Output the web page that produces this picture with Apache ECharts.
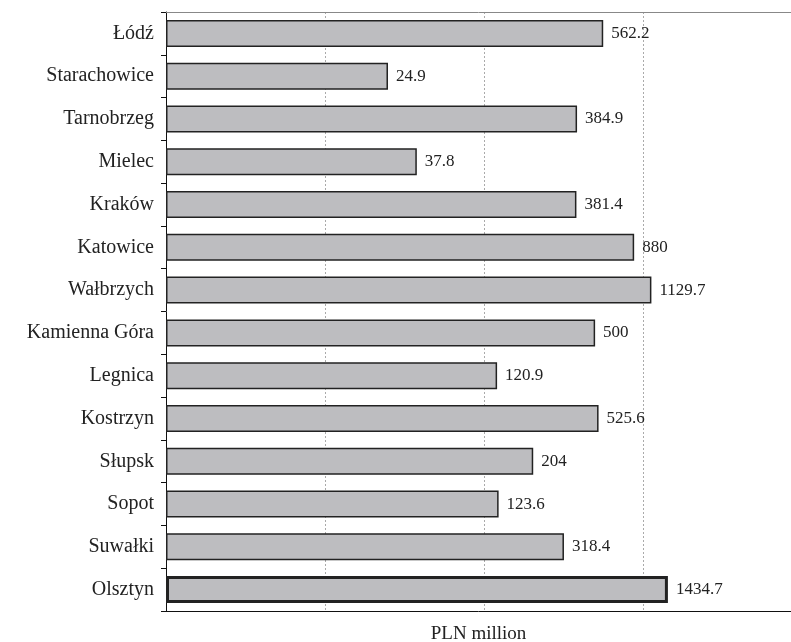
<!DOCTYPE html>
<html>
<head>
<meta charset="utf-8">
<script src="https://cdn.jsdelivr.net/npm/echarts@6/dist/echarts.min.js"></script>
<style>
  html, body { margin: 0; padding: 0; background: #fff; }
  #chart { width: 791px; height: 642px; }
</style>
</head>
<body>
<div id="chart"></div>
<script>
// cities, top to bottom
const cities = ["Łódź", "Starachowice", "Tarnobrzeg", "Mielec", "Kraków", "Katowice", "Wałbrzych",
  "Kamienna Góra", "Legnica", "Kostrzyn", "Słupsk", "Sopot", "Suwałki", "Olsztyn"];
const values = [562.2, 24.9, 384.9, 37.8, 381.4, 880, 1129.7, 500, 120.9, 525.6, 204, 123.6, 318.4, 1434.7];
const highlighted = "Olsztyn";

const chart = echarts.init(document.getElementById("chart"));

const serif = "Liberation Serif";

const option = {
  animation: false,
  grid: {
    left: 166,
    top: 12,
    right: 0,
    bottom: 31,
    containLabel: false,
    outerBoundsMode: "none",
  },
  xAxis: [
    {
      type: "log",
      logBase: 10,
      min: 1,
      max: 8530, // plot runs off the right edge of the picture
      name: "PLN million",
      nameLocation: "middle",
      nameGap: 14,
      nameTextStyle: { fontFamily: serif, fontSize: 19, color: "#222" },
      axisLine: { show: true, lineStyle: { color: "#111", width: 1 } },
      axisTick: { show: false },
      axisLabel: { show: false },
      splitLine: { show: true, lineStyle: { color: "#aaa", type: [2, 2], width: 1 } },
    },
    {
      // top frame line only
      type: "value",
      position: "top",
      min: 0,
      max: 1,
      axisLine: { show: true, lineStyle: { color: "#888", width: 1 } },
      axisTick: { show: false },
      axisLabel: { show: false },
      splitLine: { show: false },
    },
  ],
  yAxis: {
    type: "category",
    inverse: true,
    data: cities,
    axisLine: { show: true, lineStyle: { color: "#111", width: 1 } },
    axisTick: { show: true, length: 5, lineStyle: { color: "#111" } },
    axisLabel: { fontFamily: serif, fontSize: 20, color: "#222", margin: 12, padding: [3, 0, 0, 0] },
    splitLine: { show: false },
  },
  series: [
    {
      type: "bar",
      xAxisIndex: 0,
      barWidth: 27,
      data: values.map((v, i) => ({
        value: v,
        itemStyle: {
          color: "#bdbdc0",
          borderColor: "#222",
          borderWidth: cities[i] === highlighted ? 3 : 1.5,
        },
      })),
      label: {
        show: true,
        position: "right",
        distance: 8,
        fontFamily: serif,
        fontSize: 17,
        color: "#222",
        padding: [3, 0, 0, 0],
        formatter: (p) => String(values[p.dataIndex]),
      },
    },
  ],
};

chart.setOption(option);
</script>
</body>
</html>
